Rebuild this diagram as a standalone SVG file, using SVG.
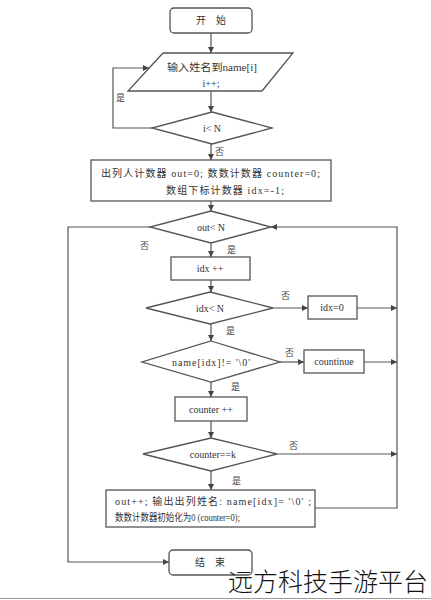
<svg xmlns="http://www.w3.org/2000/svg" width="431" height="600" viewBox="0 0 431 600">
<defs>
<style>
.s{fill:#fff;stroke:#555;stroke-width:1.3}
.l{fill:none;stroke:#555;stroke-width:1.2}
.t{font-family:"Liberation Serif","Noto Sans CJK SC",serif;font-size:10px;fill:#333}
.c{text-anchor:middle}
.lab{font-family:"Liberation Serif","Noto Sans CJK SC",serif;font-size:9px;fill:#444}
</style>
<marker id="a" viewBox="0 0 8 8" refX="8" refY="4" markerWidth="5" markerHeight="5" orient="auto">
<path d="M0,0 L8,4 L0,8 z" fill="#444"/>
</marker>
</defs>
<rect width="431" height="600" fill="#fff"/>
<g id="connectors" class="l" marker-end="url(#a)">
<path d="M211,33 V53"/>
<path d="M211,91 V112"/>
<path d="M152,128 H113 V68 H149"/>
<path d="M211,144 V160"/>
<path d="M211,201 V211"/>
<path d="M211,243 V257"/>
<path d="M211,280 V292"/>
<path d="M273,308 H308"/>
<path d="M357,308 H397"/>
<path d="M211,324 V341"/>
<path d="M280,362 H304"/>
<path d="M364,362 H397"/>
<path d="M211,382 V397"/>
<path d="M211,421 V438"/>
<path d="M277,454 H397"/>
<path d="M211,471 V490"/>
<path d="M315,508 H397 V227 H271"/>
<path d="M150,227 H68 V562 H169"/>
</g>
<g id="start"><rect class="s" x="170" y="8" width="82" height="25" rx="4"/><text class="t c" x="211" y="24">开　始</text></g>
<g id="input"><polygon class="s" points="163,53 293,53 262,91 128,91"/><text class="t" x="167" y="71" textLength="90" lengthAdjust="spacingAndGlyphs">输入姓名到name[i]</text><text class="t c" x="211" y="87">i++;</text></g>
<g id="d1"><polygon class="s" points="212,112 272,128 212,144 152,128"/><text class="t c" x="212" y="132">i&lt; N</text></g>
<text class="lab" x="116" y="101">是</text>
<text class="lab" x="215" y="155">否</text>
<g id="init"><rect class="s" x="91" y="160" width="240" height="41"/><text class="t" x="101" y="177" textLength="219" lengthAdjust="spacing">出列人计数器 out=0;  数数计数器   counter=0;</text><text class="t" x="166" y="194" textLength="118" lengthAdjust="spacing">数组下标计数器 idx=-1;</text></g>
<g id="d2"><polygon class="s" points="211,211 271,227 211,243 150,227"/><text class="t c" x="211" y="231">out&lt; N</text></g>
<text class="lab" x="140" y="249">否</text>
<text class="lab" x="227" y="253">是</text>
<g id="idxinc"><rect class="s" x="171" y="257" width="79" height="23"/><text class="t c" x="210" y="272">idx ++</text></g>
<g id="d3"><polygon class="s" points="210,292 273,308 210,324 146,308"/><text class="t c" x="210" y="312">idx&lt; N</text></g>
<text class="lab" x="281" y="299">否</text>
<text class="lab" x="226" y="334">是</text>
<g id="idx0"><rect class="s" x="308" y="296" width="49" height="23"/><text class="t c" x="332" y="311">idx=0</text></g>
<g id="d4"><polygon class="s" points="211,341 280,362 211,382 142,362"/><text class="t" x="172" y="366" textLength="78" lengthAdjust="spacing">name[idx]!= '\0'</text></g>
<text class="lab" x="285" y="356">否</text>
<g id="cont"><rect class="s" x="304" y="350" width="60" height="23"/><text class="t c" x="334" y="365">countinue</text></g>
<text class="lab" x="231" y="390">是</text>
<g id="cinc"><rect class="s" x="175" y="397" width="72" height="24"/><text class="t c" x="211" y="413">counter ++</text></g>
<g id="d5"><polygon class="s" points="211,438 277,454 211,471 143,454"/><text class="t c" x="213" y="458">counter==k</text></g>
<text class="lab" x="289" y="449">否</text>
<text class="lab" x="232" y="484">是</text>
<g id="out"><rect class="s" x="106" y="490" width="209" height="37"/><text class="t" x="115" y="505" textLength="196" lengthAdjust="spacing">out++;  输出出列姓名:  name[idx]=  '\0'  ;</text><text class="t" x="115" y="521" textLength="125" lengthAdjust="spacingAndGlyphs">数数计数器初始化为0  (counter=0);</text></g>
<g id="end"><rect class="s" x="169" y="550" width="83" height="25" rx="4" stroke="#888"/><text class="t c" x="210" y="566" fill="#888">结　束</text></g>
<text x="328" y="591" font-family="Noto Sans CJK SC,sans-serif" font-size="25" font-weight="300" fill="#111" text-anchor="middle">远方科技手游平台</text>
<line x1="0" y1="598.5" x2="431" y2="598.5" stroke="#999" stroke-width="1"/>
</svg>
